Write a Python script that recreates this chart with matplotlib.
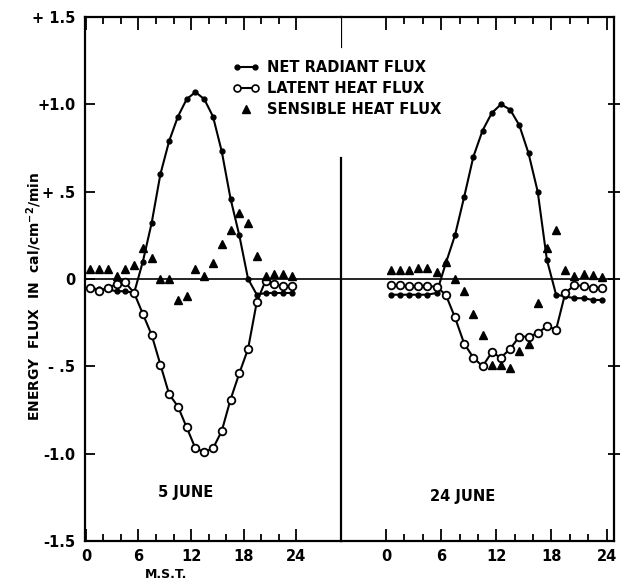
import numpy as np
import matplotlib.pyplot as plt
from matplotlib.lines import Line2D
from matplotlib.legend_handler import HandlerLine2D

# hourly values (mid-hour), cal/cm^2/min
hours = np.arange(0.5, 24, 1.0)

net_jun5 = [-0.05, -0.06, -0.06, -0.07, -0.07, -0.08, 0.10, 0.32, 0.60, 0.79, 0.93, 1.03,
            1.07, 1.03, 0.93, 0.73, 0.46, 0.25, 0.00, -0.09, -0.08, -0.08, -0.08, -0.08]
latent_jun5 = [-0.05, -0.07, -0.05, -0.03, -0.02, -0.08, -0.20, -0.32, -0.49, -0.66, -0.73, -0.85,
               -0.97, -0.99, -0.97, -0.87, -0.69, -0.54, -0.40, -0.13, -0.01, -0.03, -0.04, -0.04]
sens_jun5 = [0.06, 0.06, 0.06, 0.02, 0.06, 0.08, 0.18, 0.12, 0.00, 0.00, -0.12, -0.10,
             0.06, 0.02, 0.09, 0.20, 0.28, 0.38, 0.32, 0.13, 0.02, 0.03, 0.03, 0.02]

net_jun24 = [-0.09, -0.09, -0.09, -0.09, -0.09, -0.08, 0.09, 0.25, 0.47, 0.70, 0.85, 0.95,
             1.00, 0.97, 0.88, 0.72, 0.50, 0.11, -0.09, -0.10, -0.11, -0.11, -0.12, -0.12]
latent_jun24 = [-0.035, -0.035, -0.04, -0.04, -0.04, -0.045, -0.09, -0.22, -0.37, -0.45, -0.50, -0.42,
                -0.45, -0.40, -0.33, -0.33, -0.31, -0.27, -0.29, -0.08, -0.035, -0.04, -0.05, -0.05]
sens_jun24 = [0.05, 0.05, 0.05, 0.065, 0.065, 0.04, 0.10, 0.00, -0.07, -0.20, -0.32, -0.49,
              -0.49, -0.51, -0.41, -0.37, -0.14, 0.18, 0.28, 0.05, 0.02, 0.03, 0.025, 0.01]

major_x = [0, 6, 12, 18, 24]
minor_x = [2, 4, 8, 10, 14, 16, 20, 22]
y_ticks = [1.5, 1.0, 0.5, 0, -0.5, -1.0, -1.5]
y_labels = ['+ 1.5', '+1.0', '+ .5', '0', '- .5', '-1.0', '-1.5']

plt.rcParams['font.family'] = 'DejaVu Sans'
plt.rcParams['font.weight'] = 'bold'

fig = plt.figure(figsize=(6.2, 5.84), dpi=100)
W, H = 620, 584
top, bot = 17, 541
axL = fig.add_axes([85 / W, 1 - bot / H, (341 - 85) / W, (bot - top) / H])
axR = fig.add_axes([341 / W, 1 - bot / H, (614 - 341) / W, (bot - top) / H])

axL.set_xlim(-0.1, 29.1)
axR.set_xlim(-4.9, 24.8)


def draw(ax, net, lat, sens):
    ax.axhline(0, color='k', lw=1.2, zorder=1)
    ax.plot(hours, net, '-', color='k', lw=1.5, marker='o', ms=3.5, zorder=3)
    ax.plot(hours, lat, '-', color='k', lw=1.5, marker='o', ms=5.5,
            mfc='white', mec='k', mew=1.3, zorder=3)
    ax.plot(hours, sens, ls='none', marker='^', ms=5.5, color='k', zorder=4)


draw(axL, net_jun5, latent_jun5, sens_jun5)
draw(axR, net_jun24, latent_jun24, sens_jun24)

for ax in (axL, axR):
    ax.set_ylim(-1.5, 1.5)
    ax.set_xticks(major_x)
    ax.set_xticks(minor_x, minor=True)
    ax.set_xticklabels([str(v) for v in major_x], fontsize=10.5, fontweight='bold')
    ax.tick_params(axis='x', which='major', direction='in', length=9, width=1.3,
                   top=True, bottom=True, pad=6)
    ax.tick_params(axis='x', which='minor', direction='in', length=5, width=1.3,
                   top=True, bottom=True)
    for s in ax.spines.values():
        s.set_linewidth(1.6)

axL.set_yticks(y_ticks)
axL.set_yticklabels(y_labels, fontsize=10.5, fontweight='bold')
axL.tick_params(axis='y', direction='in', length=7, width=1.3, pad=7)
axL.spines['right'].set_visible(False)

axR.set_yticks(y_ticks[1:-1])
axR.tick_params(axis='y', direction='inout', length=8, width=1.3,
                left=False, right=True, labelleft=False)
axR.spines['left'].set_bounds(-1.5, 0.69)
axR.axvline(axR.get_xlim()[0], ymin=(1.33 + 1.5) / 3, ymax=1, color='k', lw=1.6)

# legend
h_net = Line2D([], [], color='k', lw=1.5, marker='o', ms=3.5)
h_lat = Line2D([], [], color='k', lw=1.5, marker='o', ms=5, mfc='white', mew=1.2)
h_sen = Line2D([], [], ls='none', marker='^', ms=5.5, color='k')
fig.legend([h_net, h_lat, h_sen],
           ['NET RADIANT FLUX', 'LATENT HEAT FLUX', 'SENSIBLE HEAT FLUX'],
           loc='upper left', bbox_to_anchor=(233 / W, 1 - 60 / H), frameon=False,
           handlelength=1.8, numpoints=2, handletextpad=0.5, labelspacing=0.4,
           borderaxespad=0, borderpad=0,
           handler_map={h_sen: HandlerLine2D(numpoints=1)},
           prop={'size': 10.5, 'weight': 'bold'})

fig.text(186 / W, 1 - 493 / H, '5 JUNE', ha='center', va='center', fontsize=10.5)
fig.text(463 / W, 1 - 497 / H, '24 JUNE', ha='center', va='center', fontsize=10.5)
fig.text(166 / W, 1 - 575 / H, 'M.S.T.', ha='center', va='center', fontsize=9)
fig.text(34 / W, 1 - 296 / H, r'ENERGY  FLUX  IN  cal/cm$^{-2}$/min', rotation=90,
         ha='center', va='center', fontsize=10)

fig.savefig('out.png', dpi=100)
